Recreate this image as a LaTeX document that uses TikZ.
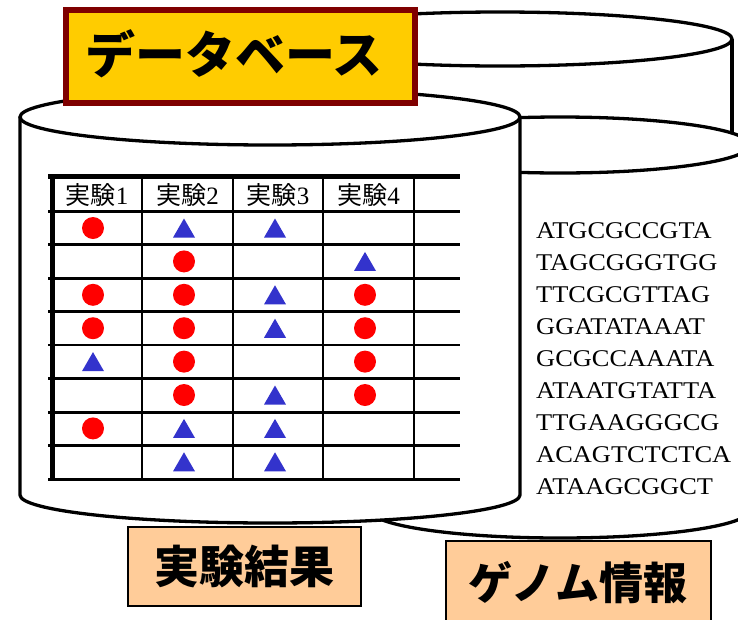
\documentclass[tikz,border=0pt]{standalone}
\usepackage{fontspec}
\setmainfont{Liberation Serif}
\newfontfamily\jp{Noto Sans CJK JP}
\newfontfamily\dnafont[FakeStretch=1.1]{Liberation Serif}
\usetikzlibrary{shapes.geometric}
\definecolor{titlefill}{HTML}{FFCC00}
\definecolor{titleline}{HTML}{7F0000}
\definecolor{labelfill}{HTML}{FFCC99}
\definecolor{dotred}{HTML}{FF0000}
\definecolor{triblue}{HTML}{3333CC}
\begin{document}
\begin{tikzpicture}[x=1pt,y=-1pt,
  cyl/.style={line width=3.3pt, line join=round},
  tabthick/.style={line width=5pt},
  tabthin/.style={line width=2.5pt},
  dot/.style={circle, fill=dotred, minimum size=22pt, inner sep=0pt},
  tri/.style={regular polygon, regular polygon sides=3, fill=triblue, minimum size=25.4pt, inner sep=0pt},
  head/.style={inner sep=0pt, font=\fontsize{25}{28}\selectfont},
  dna/.style={anchor=base west, inner sep=0pt, font=\dnafont\fontsize{24}{28}\selectfont},
  labelbox/.style={draw=black, line width=2.5pt, fill=labelfill},
  labeltext/.style={inner sep=0pt, font=\jp\bfseries\fontsize{45}{50}\selectfont}]
\useasboundingbox[fill=white] (0,0) rectangle (738,619);
% back cylinder A
\fill[white] (268,39) rectangle (732,200);
\draw[cyl] (732,39) -- (732,200);
\draw[cyl, fill=white] (500,39) ellipse[x radius=232pt, y radius=27pt];
% genome cylinder B
\draw[cyl, fill=white] (370,145) -- (370,510) arc[start angle=180, end angle=360, x radius=190pt, y radius=28pt] -- (750,145) -- cycle;
\draw[cyl, fill=white] (560,145) ellipse[x radius=190pt, y radius=28pt];
% front cylinder C
\draw[cyl, fill=white] (20,117) -- (20,495) arc[start angle=180, end angle=360, x radius=250pt, y radius=28pt] -- (520,117) -- cycle;
\draw[cyl, fill=white] (270,117) ellipse[x radius=250pt, y radius=28pt];
% table
\foreach \yy in {211.7,244.3,278.3,311.7,345,378.3,412.3,445.7,479.3}
  \draw[tabthin] (48,\yy) -- (460,\yy);
\foreach \xx in {142,233,323,414}
  \draw[tabthin] (\xx,176) -- (\xx,479.3);
\draw[tabthick] (48,176) -- (460,176);
\draw[tabthick] (52,176) -- (52,480.5);
\foreach \i/\xx in {1/97,2/187.5,3/278,4/368.5}
  \node[head] (h\i) at (\xx,195) {{\jp 実験}\i};
% markers
\foreach \c/\r in {1/1,2/2,1/3,2/3,4/3,1/4,2/4,4/4,2/5,4/5,2/6,4/6,1/7}{
  \pgfmathsetmacro{\mx}{{93,184,275,365}[\c-1]}
  \pgfmathsetmacro{\my}{228+(\r-1)*33.4}
  \node[dot] (d\c\r) at (\mx,\my) {};
}
\foreach \c/\r in {2/1,3/1,4/2,3/3,3/4,1/5,3/6,2/7,3/7,2/8,3/8}{
  \pgfmathsetmacro{\mx}{{93,184,275,365}[\c-1]}
  \pgfmathsetmacro{\my}{228+(\r-1)*33.4+3.2}
  \node[tri] (t\c\r) at (\mx,\my) {};
}
% DNA sequences
\foreach \s [count=\k] in {ATGCGCCGTA,TAGCGGGTGG,TTCGCGTTAG,GGATATAAAT,GCGCCAAATA,ATAATGTATTA,TTGAAGGGCG,ACAGTCTCTCA,ATAAGCGGCT}
  \node[dna] (s\k) at (536,{238+(\k-1)*32.1}) {\s};
% title
\draw[line width=6pt, draw=titleline, fill=titlefill] (66,10) rectangle (415,103);
\node[inner sep=0pt, font=\jp\bfseries\fontsize{50}{54}\selectfont] (title) at (234,54) {データベース};
% labels
\draw[labelbox] (128,527) rectangle (361,606);
\node[labeltext] (exp) at (244,566) {実験結果};
\draw[labelbox] (446,541) rectangle (711,650);
\node[labeltext, font=\jp\bfseries\fontsize{44}{50}\selectfont] (genome) at (578,583) {ゲノム情報};
\end{tikzpicture}
\end{document}
